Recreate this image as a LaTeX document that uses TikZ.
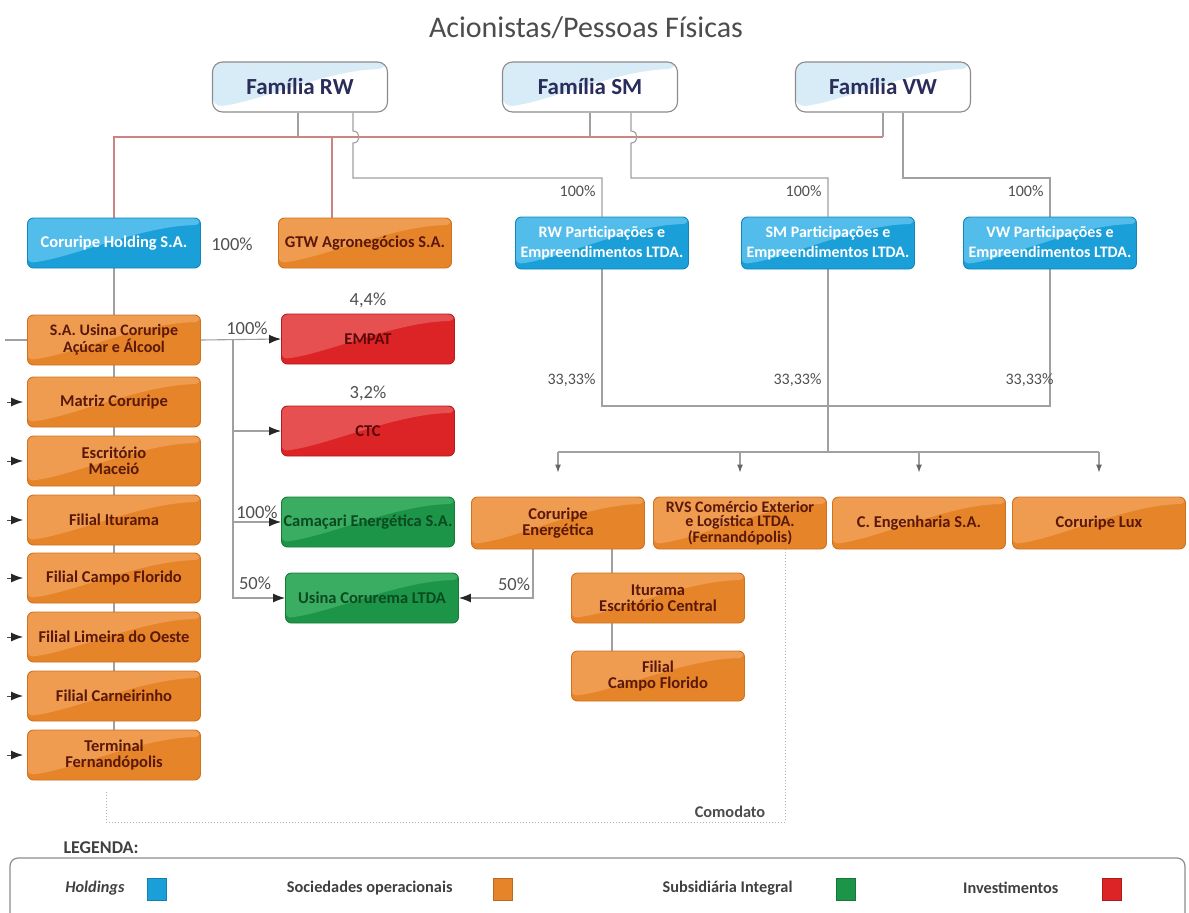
\documentclass[tikz,border=0pt]{standalone}
\usepackage{fontspec}
\setmainfont{Carlito}
\usetikzlibrary{arrows.meta,backgrounds,calc}
\definecolor{bluB}{HTML}{1A9FD8}
\definecolor{bluL}{HTML}{52BCEA}
\definecolor{bluD}{HTML}{1386BC}
\definecolor{orgB}{HTML}{E6842A}
\definecolor{orgL}{HTML}{EF9C50}
\definecolor{orgD}{HTML}{CF7220}
\definecolor{orgT}{HTML}{5A1808}
\definecolor{grnB}{HTML}{1D9548}
\definecolor{grnL}{HTML}{3AAD62}
\definecolor{grnD}{HTML}{157A38}
\definecolor{grnT}{HTML}{0B4A20}
\definecolor{redB}{HTML}{DC2326}
\definecolor{redL}{HTML}{E65050}
\definecolor{redD}{HTML}{B81A1C}
\definecolor{redT}{HTML}{5A0808}
\definecolor{famT}{HTML}{2A2C5A}
\definecolor{famL}{HTML}{D8ECF8}
\definecolor{lineG}{HTML}{A0A0A0}
\definecolor{lineR}{HTML}{CB8482}
\definecolor{txtG}{HTML}{505050}
\newcommand\myfs[2]{\fontsize{#1}{#2}\selectfont}
\tikzset{
  hilite/.style={path picture={\fill[#1] (path picture bounding box.north west) -- (path picture bounding box.north east) -- ([yshift=-7pt]path picture bounding box.north east) .. controls ([xshift=-60pt,yshift=-8pt]path picture bounding box.north east) and ([xshift=45pt,yshift=10pt]path picture bounding box.south west) .. ([yshift=5pt]path picture bounding box.south west) -- cycle;}},
  cbox/.style={rounded corners=6pt, minimum width=173pt, minimum height=50pt, align=center, inner sep=1pt, line width=0.9pt, font=\bfseries\myfs{16.5}{16}},
  blu/.style={cbox, fill=bluB, draw=bluD, text=white, hilite=bluL},
  org/.style={cbox, fill=orgB, draw=orgD, text=orgT, hilite=orgL},
  grn/.style={cbox, fill=grnB, draw=grnD, text=grnT, hilite=grnL},
  rdb/.style={cbox, fill=redB, draw=redD, text=redT, hilite=redL},
  famb/.style={rounded corners=10pt, minimum width=175pt, minimum height=50pt, fill=white, draw=black!45, line width=1.1pt, text=famT, font=\bfseries\myfs{23}{25}, hilite=famL},
  gline/.style={draw=lineG, line width=1.1pt},
  rline/.style={draw=lineR, line width=1.3pt},
  dline/.style={draw=black!30, line width=1pt, dotted},
  arr/.style={-{Latex[length=12pt,width=9pt,color=black!85]}},
  garr/.style={-{Latex[length=8pt,width=6pt,color=black!60]}},
  pct/.style={text=txtG, font=\myfs{18.5}{20}},
  spct/.style={text=txtG, font=\myfs{16}{18}},
  leg/.style={text=black!75, font=\bfseries\myfs{16.3}{18}},
  sq/.style={minimum width=19pt, minimum height=22pt, inner sep=0pt, draw=#1!80!black, fill=#1}
}
\begin{document}
\begin{tikzpicture}[x=1pt,y=-1pt]
\useasboundingbox (0,0) rectangle (1189,913);

% title
\node[text=black!70, font=\myfs{30}{32}] (title) at (586,28) {Acionistas/Pessoas Físicas};

% families
\node[famb] (famRW) at (300,87) {Família RW};
\node[famb] (famSM) at (590,87) {Família SM};
\node[famb] (famVW) at (883,87) {Família VW};

% holdings row
\node[blu] (hold) at (114,243) {Coruripe Holding S.A.};
\node[org] (gtw) at (365,243) {GTW Agronegócios S.A.};
\node[blu, minimum height=52pt, font=\bfseries\myfs{16}{20}] (rwp) at (602,243) {RW Participações e\\Empreendimentos LTDA.};
\node[blu, minimum height=52pt, font=\bfseries\myfs{16}{20}] (smp) at (828,243) {SM Participações e\\Empreendimentos LTDA.};
\node[blu, minimum height=52pt, font=\bfseries\myfs{16}{20}] (vwp) at (1050,243) {VW Participações e\\Empreendimentos LTDA.};

% left column
\node[org, font=\bfseries\myfs{16}{14}] (usina) at (114,340) {S.A. Usina Coruripe\\Açúcar e Álcool};
\node[org] (matriz) at (114,402) {Matriz Coruripe};
\node[org] (escr) at (114,461) {Escritório\\Maceió};
\node[org] (itur) at (114,520) {Filial Iturama};
\node[org] (campo) at (114,578) {Filial Campo Florido};
\node[org] (limeira) at (114,637) {Filial Limeira do Oeste};
\node[org] (carn) at (114,696) {Filial Carneirinho};
\node[org] (term) at (114,755) {Terminal\\Fernandópolis};

% investments / subsidiaries
\node[rdb] (empat) at (368,339) {EMPAT};
\node[rdb] (ctc) at (368,431) {CTC};
\node[grn] (cama) at (368,522) {Camaçari Energética S.A.};
\node[grn] (coruema) at (372,598) {Usina Corurema LTDA};

% operational row
\node[org, minimum height=52pt] (cenerg) at (558,523) {Coruripe\\Energética};
\node[org, minimum height=52pt, font=\bfseries\myfs{16}{14.5}] (rvs) at (740,523) {RVS Comércio Exterior\\e Logística LTDA.\\(Fernandópolis)};
\node[org, minimum height=52pt] (ceng) at (919,523) {C. Engenharia S.A.};
\node[org, minimum height=52pt] (lux) at (1099,523) {Coruripe Lux};
\node[org] (iture) at (658,598) {Iturama\\Escritório Central};
\node[org] (fcampo) at (658,676) {Filial\\Campo Florido};

\begin{pgfonlayer}{background}
  \fill[white] (0,0) rectangle (1189,913);
  % family bus (red)
  \coordinate (busR) at (famVW.south |- 0,137);
  \draw[rline] (hold.north) -- (hold.north |- busR) -- (busR);
  \draw[rline] ([xshift=-33pt]gtw.north) -- ([xshift=-33pt]gtw.north |- busR);
  \draw[gline] ([xshift=-2pt]famRW.south) -- ([xshift=-2pt]famRW.south |- busR);
  \draw[gline] (famSM.south) -- (famSM.south |- busR);
  \draw[gline] (famVW.south) -- (busR);
  % family -> participacoes with hops
  \coordinate (rwd) at ([xshift=53pt]famRW.south);
  \draw[gline] (rwd) -- ($(rwd |- busR)+(0,-6)$) .. controls ($(rwd |- busR)+(8,-6)$) and ($(rwd |- busR)+(8,6)$) .. ($(rwd |- busR)+(0,6)$) -- (rwd |- 0,178) -| (rwp.north);
  \coordinate (smd) at ([xshift=41pt]famSM.south);
  \draw[gline] (smd) -- ($(smd |- busR)+(0,-6)$) .. controls ($(smd |- busR)+(8,-6)$) and ($(smd |- busR)+(8,6)$) .. ($(smd |- busR)+(0,6)$) -- (smd |- 0,178) -| (smp.north);
  \coordinate (vwd) at ([xshift=20pt]famVW.south);
  \draw[gline] (vwd) -- (vwd |- 0,178) -| (vwp.north);
  % participacoes -> joint bus
  \draw[gline] (rwp.south) -- (rwp.south |- 0,406) -| (vwp.south);
  \draw[gline] (smp.south) -- (smp.south |- 0,452);
  \draw[gline] (cenerg.north |- 0,452) -- (lux.north |- 0,452);
  \foreach \n in {cenerg,rvs,ceng,lux}
    \draw[gline, garr, shorten >=24pt] (\n.north |- 0,452) -- (\n.north);
  % left spine
  \draw[gline] (hold.south) -- (term.center);
  \draw[gline] (usina.west) -- ++(-22,0);
  \foreach \n in {matriz,escr,itur,campo,limeira,carn,term}
    \draw[black!70, line width=1pt, arr] ([xshift=-20pt]\n.west) -- ([xshift=-4pt]\n.west);
  % usina -> investments
  \coordinate (sp) at ([xshift=32pt]usina.east);
  \draw[gline, arr] (usina.east) -- (empat.west);
  \draw[gline, arr] (sp) |- (coruema.west);
  \draw[gline, arr] (sp |- ctc.west) -- (ctc.west);
  \draw[gline, arr] (sp |- cama.west) -- (cama.west);
  % coruripe energetica
  \draw[gline, arr] ([xshift=-25pt]cenerg.south) |- (coruema.east);
  \draw[gline] ([xshift=54pt]cenerg.south) -- ([xshift=54pt]cenerg.south |- fcampo.north);
  % comodato
  \coordinate (cmd) at ([xshift=-8pt]term.south |- 0,822);
  \draw[dline] ([xshift=45pt]rvs.south) |- (cmd) -- ([xshift=-8pt,yshift=-10pt]term.south);
\end{pgfonlayer}

% percentages
\node[pct] at (232,244) {100\%};
\node[pct] at (247,328) {100\%};
\node[pct] at (368,300) {4,4\%};
\node[pct] at (368,393) {3,2\%};
\node[pct] at (257,512) {100\%};
\node[pct] at (255,583) {50\%};
\node[pct] at (514,584) {50\%};
\node[spct, anchor=east] at (599,191) {100\%};
\node[spct, anchor=east] at (825,191) {100\%};
\node[spct, anchor=east] at (1047,191) {100\%};
\node[spct, anchor=east] at (599,380) {33,33\%};
\node[spct, anchor=east] at (825,380) {33,33\%};
\node[spct, anchor=east] at (1057,380) {33,33\%};
\node[leg, text=black!70] at (730,812) {Comodato};

% legend
\node[leg, anchor=west, font=\bfseries\myfs{18}{20}] (legtitle) at (60,848) {LEGENDA:};
\draw[draw=black!45, line width=1.2pt, rounded corners=8pt] (10,930) -- (10,858) -- (1185,858) -- (1185,930);
\node[leg, anchor=east, font=\bfseries\itshape\myfs{16.3}{18}] (l1) at (128,888) {Holdings};
\node[sq=bluB] (s1) at (157,889) {};
\node[leg, anchor=east] (l2) at (456,888) {Sociedades operacionais};
\node[sq=orgB] (s2) at (503,889) {};
\node[leg, anchor=east] (l3) at (796,888) {Subsidiária Integral};
\node[sq=grnB] (s3) at (846,889) {};
\node[leg, anchor=east] (l4) at (1062,888) {Investimentos};
\node[sq=redB] (s4) at (1112,889) {};
\end{tikzpicture}
\end{document}
